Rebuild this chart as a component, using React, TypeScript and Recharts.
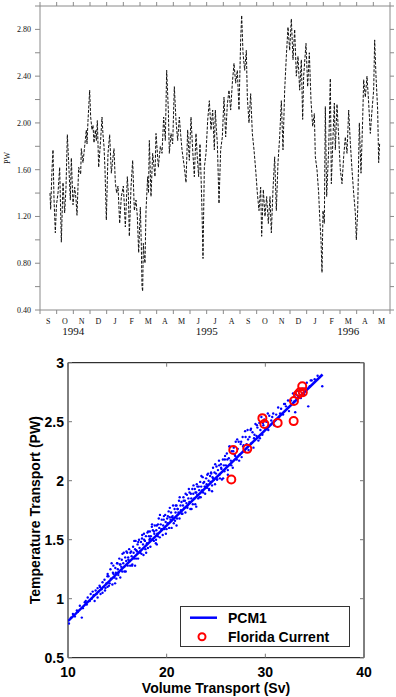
import React from 'react';
import { LineChart, Line, XAxis, YAxis, ScatterChart, Scatter } from 'recharts';

// ---------- Top panel: time series of temperature transport (PW) ----------
const monthLetters = ['S', 'O', 'N', 'D', 'J', 'F', 'M', 'A', 'M', 'J', 'J', 'A', 'S', 'O', 'N', 'D', 'J', 'F', 'M', 'A', 'M'];
const monthTicks = [0, 1, 2, 3, 4, 5, 6, 7, 8, 9, 10, 11, 12, 13, 14, 15, 16, 17, 18, 19, 20, 21];
const yearTicks = [2, 10, 18.5];
const yearLabels = ['1994', '1995', '1996'];
const pwTicks = [0.4, 0.6, 0.8, 1.0, 1.2, 1.4, 1.6, 1.8, 2.0, 2.2, 2.4, 2.6, 2.8, 3.0];

// time in months since 1 Sep 1994
const seriesMonth = [
  0.60, 0.64, 0.72, 0.78, 0.84, 0.92, 0.99, 1.08, 1.18, 1.28,
  1.38, 1.48, 1.56, 1.64, 1.72, 1.82, 1.88, 1.98, 2.08, 2.16,
  2.22, 2.32, 2.44, 2.48, 2.58, 2.68, 2.78, 2.82, 2.88, 2.98,
  3.04, 3.12, 3.18, 3.24, 3.32, 3.38, 3.44, 3.52, 3.64, 3.72,
  3.78, 3.84, 3.90, 3.98, 4.08, 4.18, 4.28, 4.36, 4.44, 4.52,
  4.60, 4.68, 4.78, 4.88, 5.00, 5.06, 5.12, 5.19, 5.24, 5.30,
  5.36, 5.46, 5.56, 5.66, 5.76, 5.84, 5.92, 6.02, 6.08, 6.12,
  6.16, 6.20, 6.24, 6.30, 6.36, 6.46, 6.51, 6.56, 6.66, 6.76,
  6.90, 6.96, 7.04, 7.10, 7.22, 7.32, 7.42, 7.52, 7.60, 7.70,
  7.76, 7.86, 7.96, 8.06, 8.16, 8.26, 8.36, 8.44, 8.52, 8.66,
  8.76, 8.86, 8.96, 9.06, 9.16, 9.26, 9.36, 9.44, 9.52, 9.60,
  9.66, 9.72, 9.78, 9.86, 9.96, 10.06, 10.16, 10.26, 10.36, 10.46,
  10.52, 10.58, 10.64, 10.74, 10.84, 10.94, 11.04, 11.14, 11.24, 11.34,
  11.44, 11.54, 11.64, 11.74, 11.84, 11.94, 12.04, 12.10, 12.18, 12.28,
  12.38, 12.44, 12.54, 12.64, 12.74, 12.84, 12.94, 13.04, 13.14, 13.24,
  13.30, 13.40, 13.50, 13.60, 13.70, 13.80, 13.88, 13.98, 14.08, 14.18,
  14.28, 14.38, 14.48, 14.58, 14.68, 14.78, 14.88, 14.98, 15.08, 15.18,
  15.28, 15.38, 15.48, 15.58, 15.68, 15.76, 15.82, 15.96, 16.06, 16.16,
  16.26, 16.36, 16.46, 16.52, 16.62, 16.72, 16.78, 16.86, 16.92, 16.98,
  17.06, 17.12, 17.20, 17.32, 17.42, 17.48, 17.58, 17.66, 17.72, 17.82,
  17.92, 18.02, 18.12, 18.22, 18.32, 18.42, 18.52, 18.62, 18.72, 18.82,
  18.92, 18.98, 19.06, 19.16, 19.26, 19.36, 19.42, 19.52, 19.62, 19.72,
  19.82, 19.92, 20.02, 20.08, 20.16, 20.26, 20.32, 20.38,
];
const seriesPW = [
  1.40, 1.26, 1.60, 1.77, 1.35, 1.06, 1.30, 1.40, 1.62, 0.98,
  1.49, 1.23, 1.45, 1.90, 1.66, 1.34, 1.70, 1.30, 1.45, 1.35,
  1.21, 1.62, 1.56, 1.78, 1.66, 1.80, 1.94, 1.82, 2.02, 2.28,
  2.05, 1.94, 1.98, 1.83, 1.94, 1.85, 2.02, 1.62, 1.86, 2.05,
  1.90, 1.80, 1.60, 1.17, 1.74, 1.90, 1.57, 1.68, 1.78, 1.49,
  1.40, 1.46, 1.14, 1.37, 1.46, 1.30, 1.11, 1.35, 1.54, 1.40,
  1.03, 1.45, 1.68, 1.25, 1.34, 1.20, 0.89, 1.28, 0.95, 0.60,
  0.56, 0.97, 0.88, 0.80, 1.25, 1.54, 1.40, 1.85, 1.37, 1.74,
  1.54, 1.91, 1.75, 1.62, 1.80, 1.74, 2.05, 1.85, 2.45, 2.11,
  1.74, 1.91, 1.82, 2.31, 2.02, 1.85, 2.05, 1.90, 1.77, 1.62,
  1.49, 1.94, 1.68, 2.05, 1.77, 1.54, 1.91, 1.70, 1.54, 1.82,
  1.55, 1.25, 0.84, 1.62, 1.74, 2.02, 2.19, 1.94, 2.11, 1.77,
  2.11, 1.95, 1.83, 1.31, 1.77, 1.88, 2.22, 1.88, 2.16, 2.28,
  2.11, 2.34, 2.51, 2.34, 2.45, 2.11, 2.71, 2.92, 2.60, 2.45,
  2.62, 2.22, 2.00, 2.25, 1.91, 1.77, 1.60, 1.40, 1.25, 1.45,
  1.03, 1.43, 1.20, 1.37, 1.14, 1.37, 1.06, 1.43, 1.71, 1.25,
  1.66, 1.88, 2.19, 1.77, 2.28, 2.57, 2.82, 2.62, 2.89, 2.54,
  2.80, 2.40, 2.57, 2.28, 2.54, 2.03, 2.40, 2.68, 2.31, 2.60,
  2.19, 1.97, 2.08, 1.71, 1.60, 1.40, 1.20, 1.00, 0.72, 1.25,
  1.14, 2.14, 1.37, 1.77, 2.38, 1.48, 1.88, 2.17, 1.77, 2.16,
  1.88, 1.60, 1.48, 1.71, 1.88, 1.74, 2.11, 1.83, 1.60, 1.40,
  1.23, 1.00, 1.25, 2.00, 1.57, 2.03, 2.37, 2.22, 2.40, 2.17,
  1.91, 2.11, 2.28, 2.71, 2.40, 2.11, 1.66, 1.83,
];

// ---------- Bottom panel: scatter of temperature vs volume transport ----------
const volTicks = [10, 20, 30, 40];
const tempTicks = [0.5, 1, 1.5, 2, 2.5, 3];

const pcm1PointsA: [number, number][] = [
  [10.1, 0.79], [10.3, 0.84], [10.5, 0.87], [10.7, 0.85], [10.9, 0.90], [11.2, 0.94], [11.4, 0.84], [11.5, 0.92], [11.7, 0.97], [11.9, 0.95],
  [12.0, 1.01], [12.2, 0.98], [12.3, 1.04],
  [12.4, 1.00], [12.5, 1.06], [12.6, 1.03], [12.7, 0.98], [12.8, 1.07], [12.9, 1.04], [13.0, 1.09], [13.0, 1.01], [13.1, 1.06], [13.2, 1.11],
  [13.3, 1.04], [13.4, 1.08], [13.5, 1.14], [13.5, 1.05], [13.6, 1.10], [13.7, 1.16], [13.8, 1.09], [13.9, 1.13], [14.0, 1.10], [14.0, 1.19],
  [14.1, 1.19], [14.15, 1.11], [14.3, 1.25], [14.35, 1.17], [14.5, 1.12], [14.55, 1.22], [14.6, 1.28], [14.7, 1.18], [14.8, 1.26], [14.85, 1.22],
  [14.9, 1.17], [15.0, 1.30], [15.05, 1.25], [15.1, 1.20], [15.2, 1.34], [15.25, 1.29], [15.3, 1.18], [15.4, 1.27], [15.45, 1.33], [15.5, 1.23],
  [15.6, 1.30], [15.65, 1.39], [15.7, 1.27], [15.8, 1.35], [15.85, 1.23], [15.9, 1.32], [16.0, 1.39], [16.05, 1.28], [16.1, 1.35], [16.2, 1.42],
  [16.25, 1.32], [16.3, 1.28], [16.4, 1.40], [16.45, 1.36], [16.5, 1.28], [16.6, 1.44], [16.65, 1.39], [16.7, 1.34], [16.8, 1.42], [16.85, 1.49],
  [16.9, 1.34], [17.0, 1.40], [17.05, 1.46], [17.1, 1.34], [17.2, 1.50], [17.25, 1.43], [17.3, 1.40], [17.4, 1.48], [17.45, 1.38], [17.5, 1.51],
  [17.6, 1.46], [17.65, 1.37], [17.7, 1.55], [17.8, 1.49], [17.85, 1.42], [17.9, 1.53], [18.0, 1.47], [18.05, 1.56], [18.1, 1.43], [18.2, 1.53],
  [18.25, 1.50],
  [18.3, 1.57], [18.35, 1.44], [18.4, 1.53], [18.5, 1.61], [18.55, 1.50], [18.6, 1.58], [18.7, 1.49], [18.75, 1.55], [18.8, 1.62], [18.9, 1.47],
  [18.95, 1.58], [19.0, 1.62], [19.05, 1.55], [19.1, 1.53], [19.2, 1.68], [19.25, 1.60], [19.3, 1.52], [19.4, 1.63], [19.45, 1.59], [19.5, 1.67],
  [19.6, 1.54], [19.65, 1.62], [19.7, 1.67], [19.8, 1.59], [19.85, 1.71], [19.9, 1.65], [20.0, 1.59], [20.05, 1.68], [20.1, 1.64], [20.2, 1.74],
  [20.25, 1.60], [20.3, 1.69], [20.4, 1.67], [20.45, 1.73], [20.5, 1.60], [20.6, 1.70], [20.65, 1.79], [20.7, 1.68], [20.8, 1.76], [20.85, 1.66],
  [20.9, 1.73], [21.0, 1.79], [21.05, 1.68], [21.1, 1.76], [21.2, 1.73], [21.25, 1.83], [21.3, 1.68], [21.4, 1.79], [21.45, 1.75], [21.5, 1.82],
  [21.6, 1.72], [21.65, 1.79], [21.7, 1.86], [21.8, 1.77], [21.85, 1.83], [21.9, 1.73], [22.0, 1.81],
  [22.05, 1.88], [22.1, 1.77], [22.2, 1.85], [22.25, 1.93], [22.3, 1.82], [22.4, 1.76], [22.45, 1.89], [22.5, 1.85], [22.6, 1.93], [22.65, 1.80],
  [22.7, 1.89], [22.8, 1.85], [22.85, 1.93], [22.9, 1.80], [23.0, 1.90], [23.05, 1.97], [23.1, 1.88], [23.2, 1.85], [23.25, 1.95], [23.3, 1.92],
  [23.4, 1.99], [23.45, 1.86], [23.5, 1.95], [23.6, 1.92], [23.65, 2.03], [23.7, 1.90], [23.8, 1.99], [23.85, 1.95], [23.9, 1.89], [24.0, 2.02],
  [24.05, 1.97], [24.1, 1.94], [24.2, 2.06], [24.25, 2.00], [24.3, 1.93], [24.4, 2.04], [24.45, 1.99], [24.5, 2.07], [24.6, 1.96], [24.65, 2.03],
  [24.7, 2.11], [24.8, 2.01], [24.85, 2.07], [24.9, 1.97], [25.0, 2.06], [25.05, 2.12], [25.1, 2.01], [25.2, 2.09], [25.3, 2.17], [25.35, 2.05],
  [25.4, 2.02], [25.5, 2.14], [25.55, 2.10], [25.6, 2.01], [25.7, 2.18], [25.8, 2.13], [25.85, 2.08], [25.9, 2.18], [26.0, 2.13],
  [26.1, 2.23], [26.2, 2.09], [26.3, 2.19], [26.4, 2.29], [26.5, 2.17], [26.6, 2.25], [26.7, 2.11], [26.8, 2.28], [26.9, 2.22], [27.0, 2.33],
  [27.1, 2.18], [27.2, 2.27], [27.3, 2.33], [27.4, 2.22], [27.5, 2.31], [27.6, 2.20], [27.7, 2.37], [27.8, 2.30], [27.9, 2.25], [28.0, 2.37],
  [28.1, 2.31], [28.2, 2.43], [28.3, 2.26], [28.4, 2.37], [28.5, 2.43], [28.6, 2.32], [28.7, 2.41], [28.8, 2.28], [28.9, 2.39], [29.0, 2.48],
  [29.1, 2.38], [29.2, 2.45], [29.3, 2.34], [29.4, 2.49], [29.5, 2.43], [29.6, 2.54], [29.7, 2.39], [29.8, 2.47], [29.9, 2.52], [30.0, 2.44],
  [30.1, 2.50], [30.3, 2.43], [30.4, 2.55], [30.6, 2.51], [30.8, 2.57], [30.9, 2.47], [31.1, 2.56], [31.3, 2.62], [31.4, 2.54], [31.6, 2.61],
  [31.8, 2.56], [31.9, 2.65], [32.1, 2.63], [32.3, 2.68], [32.4, 2.59], [32.6, 2.68], [32.8, 2.74], [32.9, 2.67], [33.03, 2.58], [33.1, 2.73],
  [33.3, 2.72], [33.5, 2.77], [33.6, 2.70], [33.8, 2.78], [34.0, 2.78], [34.2, 2.83], [34.35, 2.63], [34.5, 2.80], [34.7, 2.85], [35.0, 2.86],
  [35.3, 2.89], [35.77, 2.80],
];

const pcm1PointsB: [number, number][] = [
  [11.0, 0.89], [11.8, 0.98], [13.25, 1.10], [13.75, 1.07], [14.02, 1.21], [14.22, 1.13], [14.42, 1.30], [14.62, 1.21], [14.77, 1.13], [14.97, 1.30],
  [15.12, 1.22], [15.32, 1.29], [15.52, 1.38], [15.72, 1.23], [15.92, 1.40], [16.12, 1.33], [16.32, 1.39], [16.52, 1.29], [16.72, 1.49], [16.92, 1.41],
  [16.8, 1.28], [17.12, 1.48], [17.32, 1.39], [17.52, 1.54], [17.72, 1.50], [17.92, 1.39], [18.12, 1.57], [18.32, 1.51], [18.52, 1.63], [18.72, 1.57],
  [18.92, 1.50], [19.0, 1.46], [19.12, 1.63], [19.32, 1.71], [19.52, 1.59], [19.72, 1.70], [19.92, 1.55], [20.12, 1.70], [20.32, 1.77], [20.52, 1.69],
  [20.72, 1.64], [20.92, 1.79], [21.0, 1.62], [21.12, 1.76], [21.32, 1.86], [21.52, 1.72], [21.72, 1.83], [21.92, 1.89], [22.12, 1.79], [22.32, 1.90],
  [22.52, 1.76], [22.72, 1.96], [22.92, 1.90], [23.0, 1.78], [23.12, 1.95], [23.32, 1.86], [23.52, 2.04], [23.72, 1.98], [23.92, 1.95], [24.12, 2.05],
  [24.32, 1.92], [24.52, 2.06], [24.6, 1.91], [24.72, 2.02], [24.92, 2.14], [25.12, 2.01], [25.32, 2.13], [25.52, 2.11], [25.72, 2.02], [25.92, 2.21],
  [26.15, 2.18], [26.2, 2.05], [26.35, 2.29], [26.55, 2.13], [26.75, 2.25], [26.95, 2.21], [27.15, 2.35], [27.35, 2.17], [27.55, 2.33], [27.75, 2.29],
  [27.95, 2.42], [28.25, 2.35], [28.55, 2.44], [28.85, 2.36], [29.15, 2.47], [29.45, 2.36], [29.75, 2.49], [30.25, 2.57], [30.7, 2.54], [31.5, 2.57],
  [32.0, 2.65], [33.2, 2.76], [33.9, 2.73], [34.6, 2.85],
];

const fitVolume = [10.0, 35.8];
const fitTemp = [0.81, 2.90];

const floridaVolume = [33.74, 33.5, 33.8, 33.3, 32.9, 29.7, 29.9, 31.25, 32.87, 26.75, 28.17, 26.55];
const floridaTemp = [2.80, 2.75, 2.75, 2.73, 2.675, 2.53, 2.48, 2.49, 2.505, 2.26, 2.27, 2.01];

// ---------- tables built from the arrays ----------
const pwTable = seriesMonth.map((m, i) => ({ m, v: seriesPW[i] }));
const pcm1Table = [...pcm1PointsA, ...pcm1PointsB].map(([x, y]) => ({ x, y }));
const fitTable = fitVolume.map((x, i) => ({ x, y: fitTemp[i] }));
const floridaTable = floridaVolume.map((x, i) => ({ x, y: floridaTemp[i] }));

// ---------- layout / style constants ----------
const SERIF = '"Liberation Serif", "DejaVu Serif", serif';
const SANS = '"Liberation Sans", Arial, Helvetica, sans-serif';
const TOP_W = 396;
const TOP_H = 340;
const TOP_LEFT = 40;
const TOP_RIGHT = 6;
const HALF_MONTH = (TOP_W - TOP_LEFT - TOP_RIGHT) / (monthTicks.length - 1) / 2;
const GRAY = '#8a8a8a';
const INNER_TICK = 4;

const MonthTick = (p: any) => {
  const idx = monthTicks.indexOf(p.payload.value);
  if (idx < 0 || idx >= monthLetters.length) return <g />;
  return (
    <text x={p.x + HALF_MONTH} y={p.y} dy="0.71em" textAnchor="middle" fontSize={8} fontFamily={SERIF} fill="#111">
      {monthLetters[idx]}
    </text>
  );
};

const YearTick = (p: any) => {
  const idx = yearTicks.indexOf(p.payload.value);
  return (
    <text x={p.x} y={p.y} dy="0.71em" textAnchor="middle" fontSize={11} fontFamily={SERIF} fill="#111">
      {yearLabels[idx]}
    </text>
  );
};

const PwTick = (p: any) => {
  const v = p.payload.value as number;
  const show = Math.round(v * 10) % 4 === 0;
  if (!show) return <g />;
  return (
    <text x={p.x} y={p.y} dy="0.36em" textAnchor="end" fontSize={8} fontFamily={SERIF} fill="#111">
      {v.toFixed(2)}
    </text>
  );
};

const fmtTemp = (v: number) => String(v);

const LeftTick = (p: any) => (
  <g>
    <line x1={p.x + 4} y1={p.y} x2={p.x + 4 + INNER_TICK} y2={p.y} stroke="#777" />
    <text x={p.x} y={p.y} dy="0.36em" textAnchor="end" fontSize={14} fontWeight="bold" fontFamily={SANS} fill="#000">
      {fmtTemp(p.payload.value)}
    </text>
  </g>
);

const BottomTick = (p: any) => (
  <g>
    <line x1={p.x} y1={p.y - 9} x2={p.x} y2={p.y - 9 - INNER_TICK} stroke="#777" />
    <text x={p.x} y={p.y} dy="0.71em" textAnchor="middle" fontSize={14} fontWeight="bold" fontFamily={SANS} fill="#000">
      {p.payload.value}
    </text>
  </g>
);

const TopTick = (p: any) => <line x1={p.x} y1={p.y} x2={p.x} y2={p.y + INNER_TICK} stroke="#777" />;
const RightTick = (p: any) => <line x1={p.x} y1={p.y} x2={p.x - INNER_TICK} y2={p.y} stroke="#777" />;

const Dot = (p: any) => <circle cx={p.cx} cy={p.cy} r={1.2} fill="#0000ff" />;
const Ring = (p: any) => <circle cx={p.cx} cy={p.cy} r={4} fill="none" stroke="#ff0000" strokeWidth={2} />;
const NoShape = () => <g />;

const PwTitle = (p: any) => {
  const vb = p.viewBox || { x: 0, y: 0, width: 0, height: 0 };
  const cx = vb.x + 7;
  const cy = vb.y + vb.height / 2;
  return (
    <text x={cx} y={cy} dy="0.35em" textAnchor="middle" transform={`rotate(-90 ${cx} ${cy})`} fontSize={8} fontFamily={SERIF} fill="#111">
      PW
    </text>
  );
};

const XTitle = (p: any) => {
  const vb = p.viewBox || { x: 0, y: 0, width: 0, height: 0 };
  return (
    <text x={vb.x + vb.width / 2} y={vb.y + 35} textAnchor="middle" fontSize={14} fontWeight="bold" fontFamily={SANS} fill="#000">
      Volume Transport (Sv)
    </text>
  );
};

const YTitle = (p: any) => {
  const vb = p.viewBox || { x: 0, y: 0, width: 0, height: 0 };
  const cx = vb.x + 35;
  const cy = vb.y + vb.height / 2;
  return (
    <text x={cx} y={cy} dy="0.35em" textAnchor="middle" transform={`rotate(-90 ${cx} ${cy})`} fontSize={14} fontWeight="bold" fontFamily={SANS} fill="#000">
      Temperature Transport (PW)
    </text>
  );
};

export default function App() {
  return (
    <div style={{ position: 'absolute', left: 0, top: 0, width: 396, height: 697, background: '#fff', overflow: 'hidden' }}>
      <div style={{ position: 'absolute', left: 0, top: 0 }}>
        <LineChart width={TOP_W} height={TOP_H} data={pwTable} margin={{ top: 0, right: 0, bottom: 2, left: 0 }}>
          <XAxis
            dataKey="m"
            type="number"
            domain={[0, 21]}
            ticks={monthTicks}
            interval={0}
            stroke={GRAY}
            tickSize={4}
            tickMargin={4}
            height={16}
            tick={(p: any) => <MonthTick {...p} />}
            allowDataOverflow
          />
          <XAxis
            xAxisId="year"
            dataKey="m"
            type="number"
            domain={[0, 21]}
            ticks={yearTicks}
            interval={0}
            axisLine={false}
            tickLine={false}
            tickSize={0}
            tickMargin={1}
            height={12}
            tick={(p: any) => <YearTick {...p} />}
            allowDataOverflow
          />
          <XAxis
            xAxisId="top"
            orientation="top"
            dataKey="m"
            type="number"
            domain={[0, 21]}
            ticks={monthTicks}
            interval={0}
            stroke={GRAY}
            tickSize={4}
            height={6}
            tickFormatter={() => ''}
            allowDataOverflow
          />
          <YAxis
            type="number"
            domain={[0.4, 3.0]}
            ticks={pwTicks}
            interval={0}
            stroke={GRAY}
            tickSize={5}
            tickMargin={4}
            width={TOP_LEFT}
            tick={(p: any) => <PwTick {...p} />}
            label={{ content: (p: any) => <PwTitle {...p} /> }}
            allowDataOverflow
          />
          <YAxis
            yAxisId="right"
            orientation="right"
            type="number"
            domain={[0.4, 3.0]}
            ticks={pwTicks}
            interval={0}
            stroke={GRAY}
            tickSize={4}
            width={TOP_RIGHT}
            tickFormatter={() => ''}
            allowDataOverflow
          />
          <Line
            type="linear"
            dataKey="v"
            stroke="#111"
            strokeWidth={1}
            strokeDasharray="3 1.5"
            dot={false}
            activeDot={false}
            isAnimationActive={false}
          />
        </LineChart>
      </div>

      <div style={{ position: 'absolute', left: 0, top: 350 }}>
        <ScatterChart width={396} height={347} margin={{ top: 2.7, right: 22, bottom: 0, left: 0 }}>
          <XAxis
            dataKey="x"
            type="number"
            domain={[10, 40]}
            ticks={volTicks}
            interval={0}
            stroke="#000"
            tickLine={false}
            tickSize={0}
            tickMargin={9}
            height={39.3}
            tick={(p: any) => <BottomTick {...p} />}
            label={{ content: (p: any) => <XTitle {...p} /> }}
            allowDataOverflow
          />
          <XAxis
            xAxisId="top"
            orientation="top"
            dataKey="x"
            type="number"
            domain={[10, 40]}
            ticks={volTicks}
            interval={0}
            stroke="#000"
            tickLine={false}
            tickSize={0}
            tickMargin={0}
            height={10}
            tick={(p: any) => <TopTick {...p} />}
            allowDataOverflow
          />
          <YAxis
            dataKey="y"
            type="number"
            domain={[0.5, 3]}
            ticks={tempTicks}
            interval={0}
            stroke="#000"
            tickLine={false}
            tickSize={0}
            tickMargin={4}
            width={68}
            tick={(p: any) => <LeftTick {...p} />}
            label={{ content: (p: any) => <YTitle {...p} /> }}
            allowDataOverflow
          />
          <YAxis
            yAxisId="right"
            orientation="right"
            dataKey="y"
            type="number"
            domain={[0.5, 3]}
            ticks={tempTicks}
            interval={0}
            stroke="#000"
            tickLine={false}
            tickSize={0}
            tickMargin={0}
            width={10}
            tick={(p: any) => <RightTick {...p} />}
            allowDataOverflow
          />
          <Scatter name="PCM1 points" data={pcm1Table} shape={(p: any) => <Dot {...p} />} isAnimationActive={false} />
          <Scatter
            name="PCM1"
            data={fitTable}
            line={{ stroke: '#0000ff', strokeWidth: 2.5 }}
            shape={() => <NoShape />}
            isAnimationActive={false}
          />
          <Scatter name="Florida Current" data={floridaTable} shape={(p: any) => <Ring {...p} />} isAnimationActive={false} />
        </ScatterChart>
      </div>

      <svg style={{ position: 'absolute', left: 180, top: 606 }} width={171} height={42}>
        <rect x={0.5} y={0.5} width={169} height={40} fill="#fff" stroke="#333" strokeWidth={1} />
        <line x1={10} y1={11.7} x2={37} y2={11.7} stroke="#0000ff" strokeWidth={2.5} />
        <text x={48} y={11.7} dy="0.36em" fontSize={14} fontWeight="bold" fontFamily={SANS} fill="#000">PCM1</text>
        <circle cx={22} cy={30.7} r={3.5} fill="none" stroke="#ff0000" strokeWidth={2} />
        <text x={48} y={30.7} dy="0.36em" fontSize={14} fontWeight="bold" fontFamily={SANS} fill="#000">Florida Current</text>
      </svg>
    </div>
  );
}
